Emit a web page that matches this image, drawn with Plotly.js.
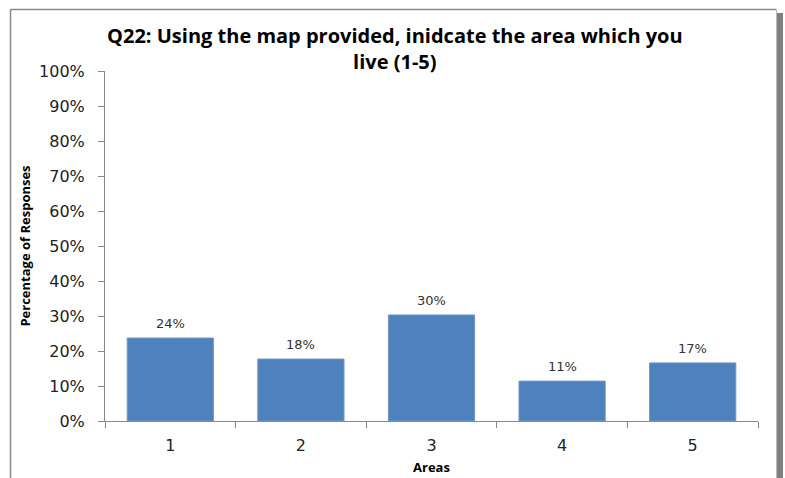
<!DOCTYPE html>
<html>
<head>
<meta charset="utf-8">
<script src="https://cdn.plot.ly/plotly-3.0.1.min.js"></script>
<style>html,body{margin:0;padding:0;background:#fff;}#chart{width:785px;height:478px;}</style>
</head>
<body>
<div id="chart"></div>
<script>
const categories = ["1", "2", "3", "4", "5"];
const values = [23.7, 17.7, 30.3, 11.4, 16.6];
const valueLabels = ["24%", "18%", "30%", "11%", "17%"];
const yTickValues = [0, 10, 20, 30, 40, 50, 60, 70, 80, 90, 100];
const yTickLabels = ["0%", "10%", "20%", "30%", "40%", "50%", "60%", "70%", "80%", "90%", "100%"];

const L = 105, R = 27, T = 71, B = 57, W = 785, H = 478;
const pw = W - L - R, ph = H - T - B;
const px = x => (x - L) / pw;
const py = y => (H - B - y) / ph;

const trace = {
  type: "bar",
  x: categories,
  y: values,
  marker: {color: "#4F81BD", line: {color: "#6F96C8", width: 1}},
  width: 0.66,
  hoverinfo: "skip"
};

const labelAnnotations = categories.map((c, i) => ({
  x: i, y: values[i], xref: "x", yref: "y",
  text: valueLabels[i], showarrow: false,
  yanchor: "bottom", yshift: 5,
  font: {family: "DejaVu Sans", size: 13, color: "#333"}
}));

const layout = {
  width: W, height: H,
  margin: {l: L, r: R, t: T, b: B},
  paper_bgcolor: "#fff",
  plot_bgcolor: "#fff",
  showlegend: false,
  title: {
    text: "<b>Q22: Using the map provided, inidcate the area which you<br>live (1-5)</b>",
    font: {family: "Open Sans", size: 20, color: "#000"},
    x: 0.503, xanchor: "center", y: 0.91, yanchor: "top"
  },
  xaxis: {
    type: "category",
    range: [-0.5, 4.5],
    showline: true, linecolor: "#888", linewidth: 1,
    ticks: "outside", tickson: "boundaries", ticklen: 6, tickcolor: "#888",
    ticklabelstandoff: 10,
    tickfont: {family: "DejaVu Sans", size: 16, color: "#222"},
    showgrid: false, zeroline: false,
    title: {text: "<b>Areas</b>", font: {family: "Open Sans", size: 13, color: "#000"}, standoff: 8}
  },
  yaxis: {
    range: [0, 100],
    tickvals: yTickValues, ticktext: yTickLabels,
    showline: true, linecolor: "#888", linewidth: 1,
    ticks: "outside", ticklen: 6, tickcolor: "#888",
    ticklabelstandoff: 10,
    tickfont: {family: "DejaVu Sans", size: 16, color: "#222"},
    showgrid: false, zeroline: false,
    title: {text: "<b>Percentage of Responses</b>", font: {family: "Open Sans", size: 13, color: "#000"}, standoff: 5}
  },
  bargap: 0.34,
  annotations: labelAnnotations,
  shapes: [
    {type: "rect", xref: "paper", yref: "paper", x0: px(777), x1: px(783), y0: py(13), y1: py(480), fillcolor: "#808080", line: {width: 0}, layer: "below"},
    {type: "line", xref: "paper", yref: "paper", x0: px(10.5), x1: px(776.5), y0: py(9.5), y1: py(9.5), line: {color: "#8a8a8a", width: 1.5}},
    {type: "line", xref: "paper", yref: "paper", x0: px(10.5), x1: px(10.5), y0: py(9.5), y1: py(480), line: {color: "#8a8a8a", width: 1.5}},
    {type: "line", xref: "paper", yref: "paper", x0: px(776.5), x1: px(776.5), y0: py(9.5), y1: py(480), line: {color: "#bbb", width: 1}}
  ]
};

Plotly.newPlot("chart", [trace], layout, {displayModeBar: false, staticPlot: true});
</script>
</body>
</html>
